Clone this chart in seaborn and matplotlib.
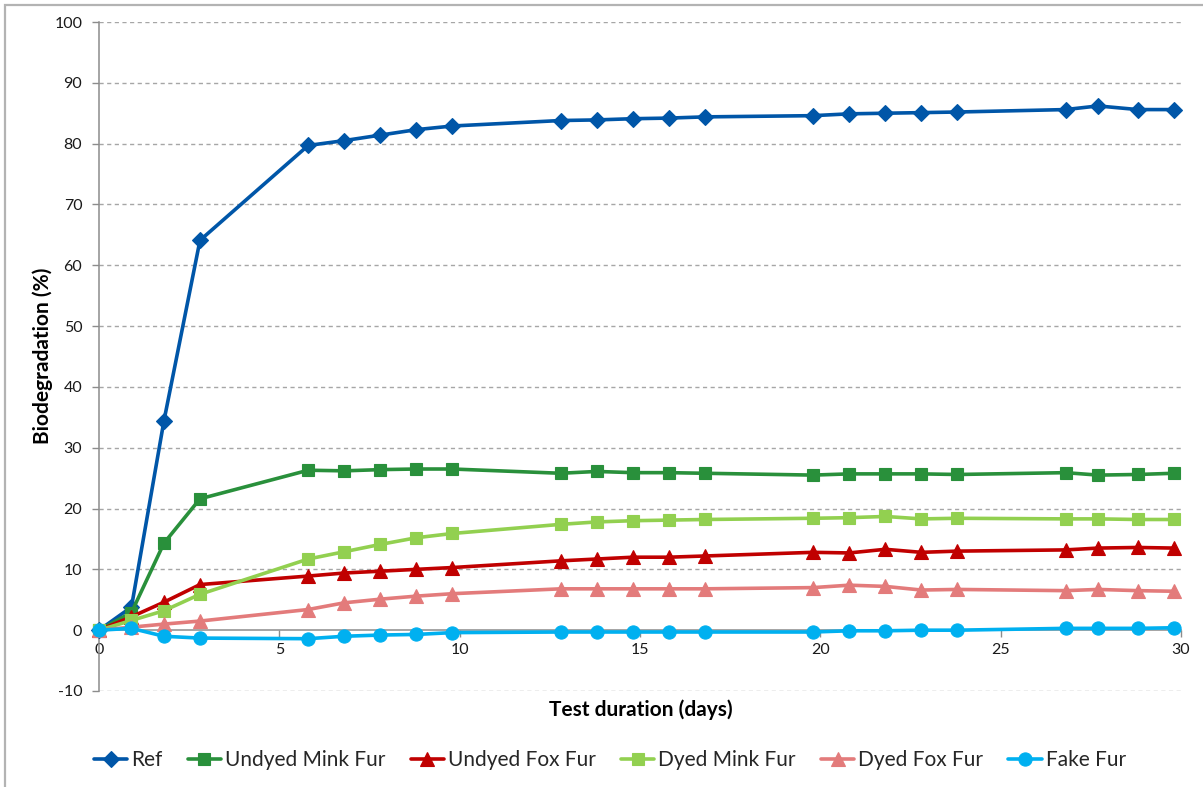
import matplotlib
matplotlib.use("Agg")
import matplotlib.pyplot as plt
import seaborn as sns
import pandas as pd
from matplotlib.patches import Rectangle

# Sampling days of the test
days = [0, 0.9, 1.8, 2.8, 5.8, 6.8, 7.8, 8.8, 9.8, 12.8, 13.8, 14.8, 15.8,
        16.8, 19.8, 20.8, 21.8, 22.8, 23.8, 26.8, 27.7, 28.8, 29.8]

# Biodegradation (%) per material
ref = [0, 3.8, 34.4, 64.1, 79.7, 80.5, 81.4, 82.3, 82.9, 83.8, 83.9, 84.1, 84.2,
       84.4, 84.6, 84.9, 85.0, 85.1, 85.2, 85.6, 86.2, 85.6, 85.6]
undyed_mink = [0, 2.9, 14.3, 21.6, 26.3, 26.2, 26.4, 26.5, 26.5, 25.8, 26.1, 25.9, 25.9,
               25.8, 25.5, 25.7, 25.7, 25.7, 25.6, 25.9, 25.5, 25.6, 25.8]
undyed_fox = [0, 2.2, 4.6, 7.5, 8.9, 9.4, 9.7, 10.0, 10.3, 11.4, 11.7, 12.0, 12.0,
              12.2, 12.8, 12.7, 13.3, 12.8, 13.0, 13.2, 13.5, 13.6, 13.5]
dyed_mink = [0, 1.6, 3.2, 5.9, 11.7, 12.9, 14.1, 15.2, 15.9, 17.4, 17.8, 18.0, 18.1,
             18.2, 18.4, 18.5, 18.7, 18.3, 18.4, 18.3, 18.3, 18.2, 18.2]
dyed_fox = [0, 0.5, 1.0, 1.5, 3.4, 4.5, 5.1, 5.6, 6.0, 6.8, 6.8, 6.8, 6.8,
            6.8, 7.0, 7.4, 7.2, 6.6, 6.7, 6.5, 6.7, 6.5, 6.4]
fake_fur = [0, 0.3, -1.0, -1.3, -1.4, -1.0, -0.8, -0.7, -0.4, -0.3, -0.3, -0.3, -0.3,
            -0.3, -0.3, -0.1, -0.1, 0.0, 0.0, 0.3, 0.3, 0.3, 0.4]

series_names = ["Ref", "Undyed Mink Fur", "Undyed Fox Fur", "Dyed Mink Fur",
                "Dyed Fox Fur", "Fake Fur"]
series_values = [ref, undyed_mink, undyed_fox, dyed_mink, dyed_fox, fake_fur]

x_ticks = [0, 5, 10, 15, 20, 25, 30]
y_ticks = [-10, 0, 10, 20, 30, 40, 50, 60, 70, 80, 90, 100]

colors = ["#0056A8", "#29903B", "#C00000", "#92D050", "#E37B7B", "#00B0F0"]
markers = ["D", "s", "^", "s", "^", "o"]
msizes = [8, 8.5, 9.5, 8.5, 9.5, 9.5]

sns.set_theme(style="white")
plt.rcParams["font.family"] = ["Lato", "DejaVu Sans"]

fig = plt.figure(figsize=(12.03, 7.87), dpi=100)
ax = fig.add_axes([99 / 1203, 1 - 691 / 787, (1181 - 99) / 1203, (691 - 22) / 787])

df = pd.DataFrame({"day": days})
for name, vals, c, m, ms in zip(series_names, series_values, colors, markers, msizes):
    df[name] = vals
    sns.lineplot(data=df, x="day", y=name, ax=ax, color=c, marker=m, markersize=ms,
                 markeredgecolor=c, markeredgewidth=0.8, linewidth=2.6, label=name,
                 zorder=3, clip_on=False)

ax.set_xlim(0, 30)
ax.set_ylim(-10, 100)
ax.set_xticks(x_ticks)
ax.set_yticks(y_ticks)
ax.set_xticklabels([str(t) for t in x_ticks])
ax.set_yticklabels([str(t) for t in y_ticks])

# Dashed horizontal gridlines
for t in y_ticks:
    if t != 0:
        ax.axhline(t, color="#a6a6a6", linestyle=(0, (3, 2.5)), linewidth=1.0, zorder=1)

for side in ["top", "right"]:
    ax.spines[side].set_visible(False)
ax.spines["left"].set_color("#8c8c8c")
ax.spines["left"].set_linewidth(1.1)
ax.spines["bottom"].set_position(("data", 0))
ax.spines["bottom"].set_color("#8c8c8c")
ax.spines["bottom"].set_linewidth(1.1)

ax.tick_params(axis="both", which="major", direction="out", length=5, width=1.0,
               color="#8c8c8c", labelsize=11.5, labelcolor="#1a1a1a",
               bottom=True, left=True)
ax.tick_params(axis="x", pad=4)
ax.tick_params(axis="y", pad=7)

ax.set_xlabel("")
ax.set_ylabel("")
fig.text(641 / 1203, 1 - 710 / 787, "Test duration (days)",
         ha="center", va="center", fontsize=15, fontweight="bold", color="black")
fig.text(43 / 1203, 1 - 356 / 787, "Biodegradation (%)", rotation=90,
         ha="center", va="center", fontsize=15, fontweight="bold", color="black")

ax.legend(loc="center", bbox_to_anchor=(610 / 1203, 1 - 760 / 787),
          bbox_transform=fig.transFigure, ncol=6, frameon=False, fontsize=15,
          handlelength=1.6, handletextpad=0.2, columnspacing=1.2, borderpad=0)

ax.set_facecolor("white")
fig.patch.set_facecolor("white")

# Outer chart border
fig.patches.append(Rectangle((5 / 1203, -0.1), 1.2, 1 - 5 / 787 + 0.1,
                             transform=fig.transFigure, fill=False,
                             edgecolor="#b3b3b3", linewidth=1.6, zorder=0))

fig.savefig("out.png", dpi=100, facecolor="white")
